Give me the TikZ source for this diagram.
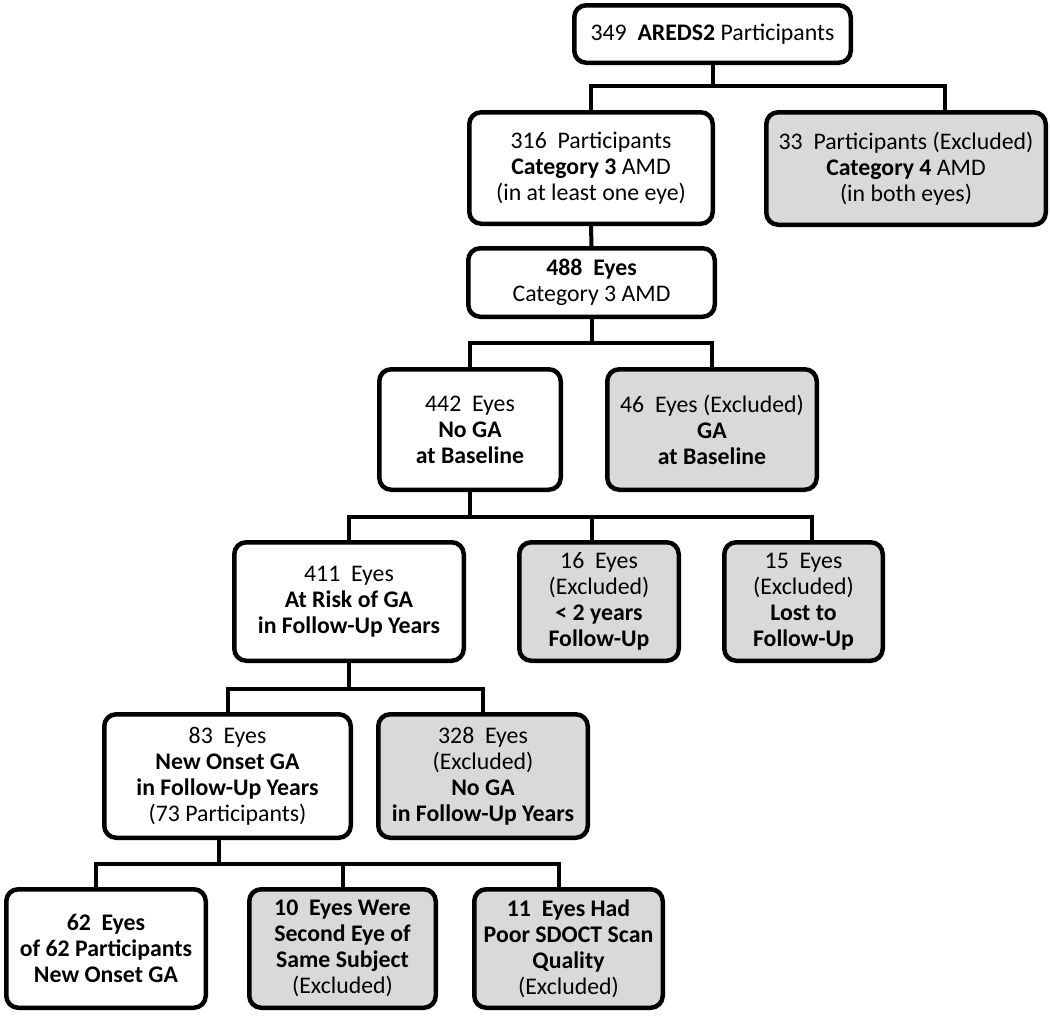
\documentclass[tikz,border=0pt]{standalone}
\usepackage{fontspec}
\setmainfont{Carlito}
\definecolor{boxgray}{RGB}{217,217,217}
\begin{document}
\begin{tikzpicture}[x=1pt,y=-1pt,
  box/.style={draw=black, line width=4.5pt, rounded corners=12pt, fill=white,
    align=center, inner sep=0pt, font=\fontsize{23.8}{26}\selectfont},
  exbox/.style={box, fill=boxgray},
  conn/.style={line width=4pt, draw=black}]
\useasboundingbox (0,0) rectangle (1050,1017);

\node[box, minimum width=276.5pt, minimum height=57.5pt] (b349) at (712.5,34)
  {349\ \ \textbf{AREDS2} Participants};
\node[box, minimum width=243.5pt, minimum height=111.5pt] (b316) at (591,168)
  {316\ \ Participants\\\textbf{Category 3} AMD\\(in at least one eye)};
\node[exbox, minimum width=279.5pt, minimum height=112.5pt] (b33) at (906,168.5)
  {33\ \ Participants (Excluded)\\\textbf{Category 4} AMD\\(in both eyes)};
\node[box, minimum width=246.5pt, minimum height=68.5pt] (b488) at (591.5,282.5)
  {\textbf{488\ \ Eyes}\\Category 3 AMD};
\node[box, minimum width=181.5pt, minimum height=120.5pt] (b442) at (470,429.5)
  {442\ \ Eyes\\\textbf{No GA}\\\textbf{at Baseline}};
\node[exbox, minimum width=209.5pt, minimum height=120.5pt] (b46) at (712,429.5)
  {46\ \ Eyes (Excluded)\\\textbf{GA}\\\textbf{at Baseline}};
\node[box, minimum width=229.5pt, minimum height=118.5pt] (b411) at (349,601.5)
  {411\ \ Eyes\\\textbf{At Risk of GA}\\\textbf{in Follow-Up Years}};
\node[exbox, minimum width=159.5pt, minimum height=118.5pt] (b16) at (599,601.5)
  {16\ \ Eyes\\(Excluded)\\\textbf{< 2 years}\\\textbf{Follow-Up}};
\node[exbox, minimum width=158.5pt, minimum height=118.5pt] (b15) at (803.5,601.5)
  {15\ \ Eyes\\(Excluded)\\\textbf{Lost to}\\\textbf{Follow-Up}};
\node[box, minimum width=246.5pt, minimum height=123.5pt] (b83) at (227.5,776)
  {83\ \ Eyes\\\textbf{New Onset GA}\\\textbf{in Follow-Up Years}\\(73 Participants)};
\node[exbox, minimum width=209.5pt, minimum height=123.5pt] (b328) at (483,776)
  {328\ \ Eyes\\(Excluded)\\\textbf{No GA}\\\textbf{in Follow-Up Years}};
\node[box, minimum width=199.5pt, minimum height=118.5pt] (b62) at (106,948.5)
  {\textbf{62\ \ Eyes}\\\textbf{of 62 Participants}\\\textbf{New Onset GA}};
\node[exbox, minimum width=186.5pt, minimum height=118.5pt] (b10) at (342.5,948.5)
  {\textbf{10\ \ Eyes Were}\\\textbf{Second Eye of}\\\textbf{Same Subject}\\(Excluded)};
\node[exbox, minimum width=188.5pt, minimum height=118.5pt] (b11) at (568.5,948.5)
  {\textbf{11\ \ Eyes Had}\\\textbf{Poor SDOCT Scan}\\\textbf{Quality}\\(Excluded)};

% level 1
\coordinate (j33) at ([xshift=39pt]b33.north);
\draw[conn] (b349.south) -- (b349.south |- 0,86);
\draw[conn] (b316.north) |- (j33 |- 0,86) -- (j33);
% level 2
\draw[conn] (b316.south) -- (b488.north);
% level 3
\draw[conn] (b488.south) -- (b488.south |- 0,343);
\draw[conn] (b442.north) |- (b46.north |- 0,343) -- (b46.north);
% level 4
\coordinate (j16) at ([xshift=-7pt]b16.north);
\coordinate (j15) at ([xshift=8.5pt]b15.north);
\draw[conn] (b442.south) -- (b442.south |- 0,517);
\draw[conn] (b411.north) |- (j15 |- 0,517) -- (j15);
\draw[conn] (j16) -- (j16 |- 0,517);
% level 5
\draw[conn] (b411.south) -- (b411.south |- 0,689);
\draw[conn] (b83.north) |- (b328.north |- 0,689) -- (b328.north);
% level 6
\coordinate (o83) at ([xshift=-8.5pt]b83.south);
\coordinate (j62) at ([xshift=-10pt]b62.north);
\coordinate (j11) at ([xshift=-9.5pt]b11.north);
\draw[conn] (o83) -- (o83 |- 0,864);
\draw[conn] (j62) |- (j11 |- 0,864) -- (j11);
\draw[conn] (b10.north) -- (b10.north |- 0,864);
\end{tikzpicture}
\end{document}
